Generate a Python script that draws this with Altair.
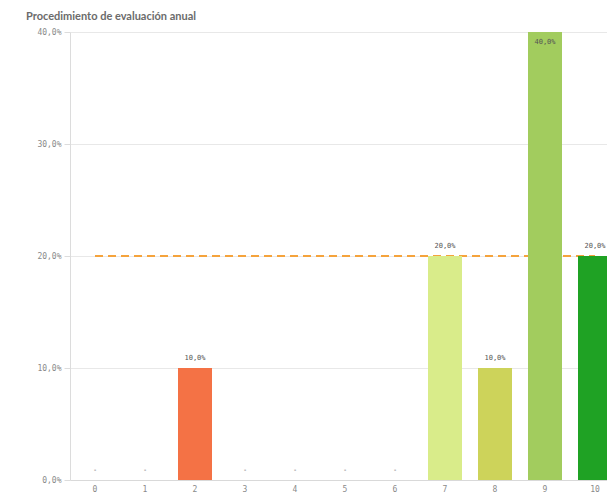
import altair as alt
import pandas as pd

categories = [0, 1, 2, 3, 4, 5, 6, 7, 8, 9, 10]
values = [0.0, 0.0, 0.10, 0.0, 0.0, 0.0, 0.0, 0.20, 0.10, 0.40, 0.20]
bar_colors = ["#f47245", "#f47245", "#f47245", "#f47245", "#f47245", "#f47245",
              "#f47245", "#d9ec8a", "#cdd35a", "#a2cc5e", "#1fa224"]
target = 0.20
y_ticks = [0.0, 0.1, 0.2, 0.3, 0.4]

df = pd.DataFrame({"cat": categories, "value": values})
df["label"] = [("-" if v == 0 else f"{v*100:.1f}%".replace(".", ",")) for v in values]
line_df = pd.DataFrame({"cat": categories, "target": [target] * len(categories)})

x_scale = alt.Scale(domain=categories, range=[0, 550], paddingInner=0.32, paddingOuter=0.16)
y_scale = alt.Scale(domain=[0, 0.4], nice=False)

x_enc = alt.X("cat:O", scale=x_scale, sort=categories,
              axis=alt.Axis(title=None, labelAngle=0, ticks=False, labelPadding=5,
                            domainColor="#d9d9d9", labelColor="#8a8a8a",
                            labelFont="DejaVu Sans Mono", labelFontSize=8))
y_axis = alt.Axis(title=None, values=y_ticks,
                  labelExpr="replace(format(datum.value, '.1%'), '.', ',')",
                  gridColor="#e8e8e8", domainColor="#dcdcdc", tickColor="#dcdcdc",
                  tickSize=6, labelPadding=3, labelColor="#8a8a8a",
                  labelFont="DejaVu Sans Mono", labelFontSize=8)

line = alt.Chart(line_df).mark_line(color="#f5a33c", strokeDash=[8, 5], strokeWidth=2).encode(
    x=x_enc,
    y=alt.Y("target:Q", scale=y_scale, axis=y_axis),
)

bars = alt.Chart(df).mark_bar().encode(
    x=x_enc,
    y=alt.Y("value:Q", scale=y_scale, axis=y_axis),
    color=alt.Color("cat:O", scale=alt.Scale(domain=categories, range=bar_colors), legend=None),
)

text_above = alt.Chart(df).transform_filter("datum.value < 0.4").mark_text(
    baseline="bottom", dy=-7, font="DejaVu Sans Mono", fontSize=7, color="#555555"
).encode(x=x_enc, y=alt.Y("value:Q", scale=y_scale), text="label:N")

text_inside = alt.Chart(df).transform_filter("datum.value >= 0.4").mark_text(
    baseline="top", dy=6, font="DejaVu Sans Mono", fontSize=7, color="#555555"
).encode(x=x_enc, y=alt.Y("value:Q", scale=y_scale), text="label:N")

chart = alt.layer(line, bars, text_above, text_inside).properties(
    width=537, height=448,
    autosize=alt.AutoSizeParams(type="none"),
    padding={"left": 62, "top": 24, "right": 0, "bottom": 16},
    title=alt.TitleParams("Procedimiento de evaluación anual", anchor="start", frame="group",
                          dx=-44, offset=6, font="Lato", fontSize=11, fontWeight="bold",
                          color="#6b6b6b"),
).configure_view(stroke=None)

chart.save("out.html", embed_options={"renderer": "svg", "actions": False})
